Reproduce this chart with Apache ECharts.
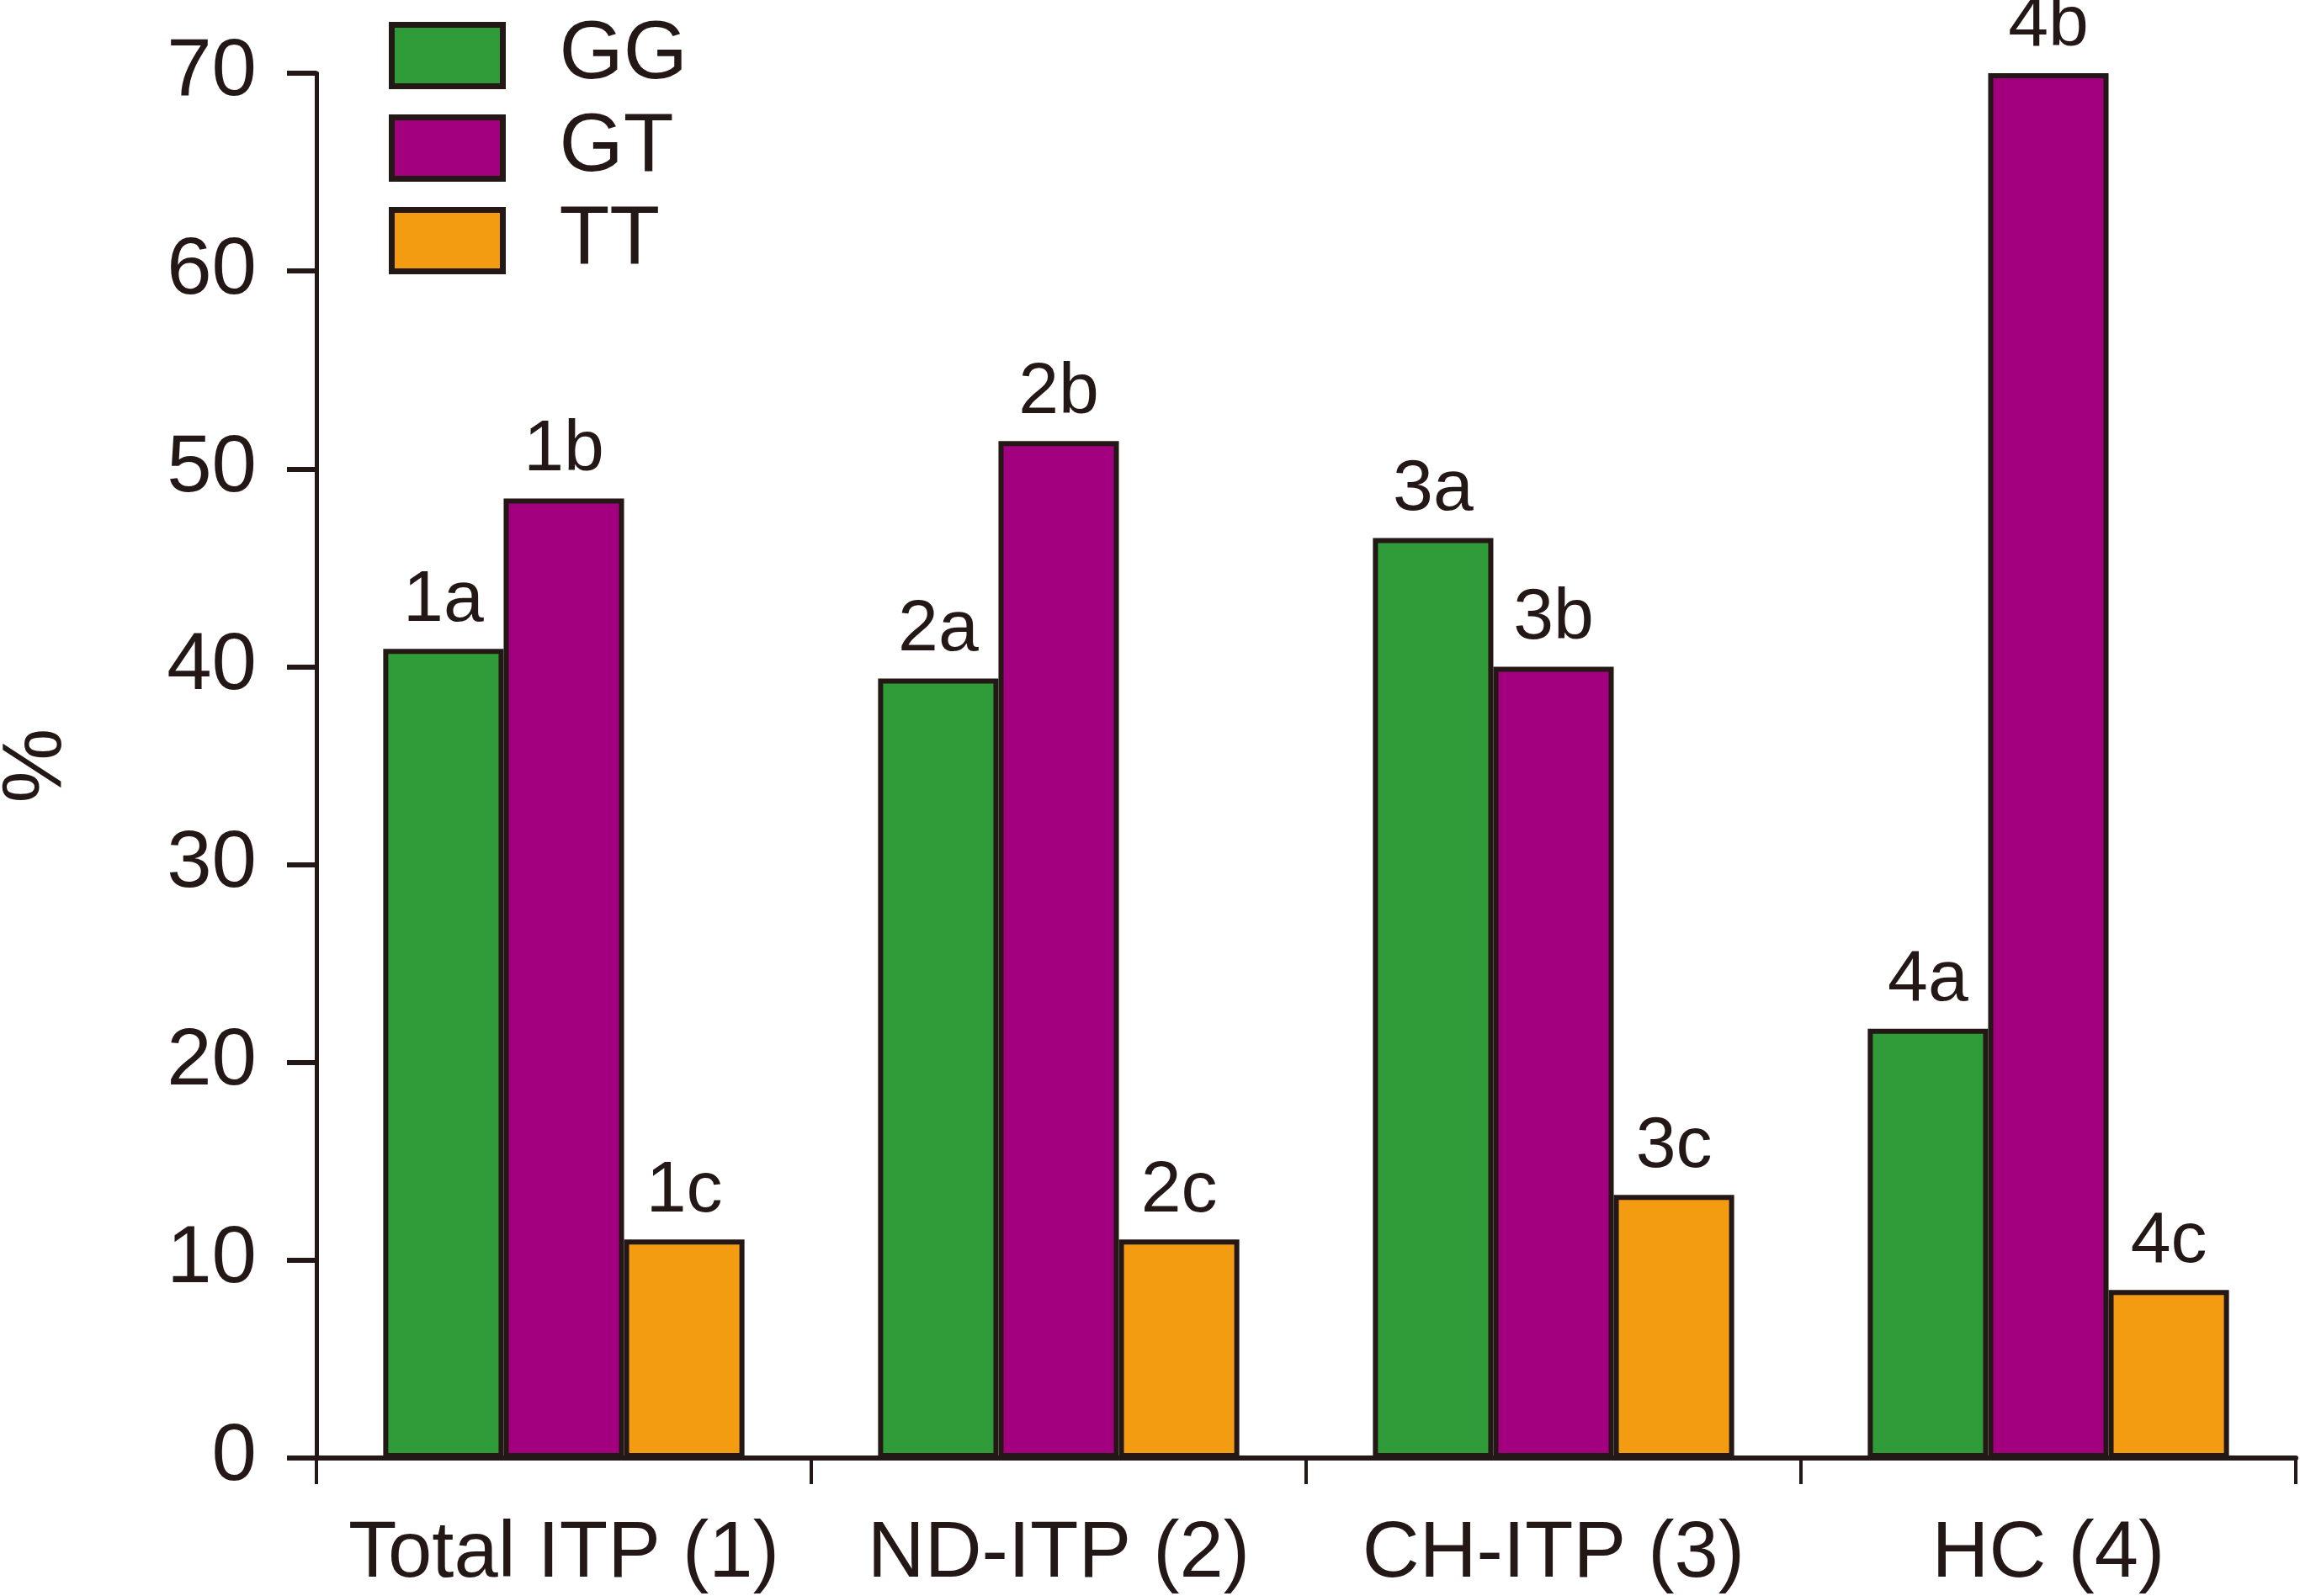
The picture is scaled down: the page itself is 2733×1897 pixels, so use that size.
<!DOCTYPE html>
<html>
<head>
<meta charset="utf-8">
<script src="https://cdn.jsdelivr.net/npm/echarts@6/dist/echarts.min.js"></script>
<style>
html,body{margin:0;padding:0;background:#fff;}
#chart{width:2733px;height:1897px;}
</style>
</head>
<body>
<div id="chart"></div>
<script>
var categories = ['Total ITP (1)', 'ND-ITP (2)', 'CH-ITP (3)', 'HC (4)'];
var seriesNames = ['GG', 'GT', 'TT'];
var ggValues = [40.9, 39.4, 46.5, 21.7];
var gtValues = [48.5, 51.4, 40.0, 70.0];
var ttValues = [11.05, 11.05, 13.3, 8.5];
var ggLabels = ['1a', '2a', '3a', '4a'];
var gtLabels = ['1b', '2b', '3b', '4b'];
var ttLabels = ['1c', '2c', '3c', '4c'];
var yTicks = [0, 10, 20, 30, 40, 50, 60, 70];

var FONT = "'Liberation Sans', Arial, Helvetica, sans-serif";
var INK = '#231815';
var colors = ['#2f9b39', '#a3007f', '#f39c12'];

function makeSeries(name, values, labels, color) {
  return {
    name: name,
    type: 'bar',
    data: values,
    barGap: '0%',
    barCategoryGap: '27%',
    itemStyle: { color: color, borderColor: INK, borderWidth: 6 },
    label: {
      show: true,
      position: 'top',
      distance: 14,
      fontFamily: FONT,
      fontSize: 86,
      color: INK,
      formatter: function (p) { return labels[p.dataIndex]; }
    },
    emphasis: { disabled: true }
  };
}

var chart = echarts.init(document.getElementById('chart'));
chart.setOption({
  animation: false,
  backgroundColor: '#fff',
  textStyle: { fontFamily: FONT, color: INK },
  legend: {
    orient: 'vertical',
    left: 457,
    top: 12,
    itemWidth: 132,
    itemHeight: 73,
    itemGap: 12,
    data: seriesNames,
    icon: 'rect',
    itemStyle: { borderColor: INK, borderWidth: 7 },
    textStyle: { fontFamily: FONT, fontSize: 98, color: INK, padding: [0, 0, 0, 62] }
  },
  grid: { left: 376, right: 5, top: 87, bottom: 164, containLabel: false, outerBoundsMode: 'none' },
  xAxis: {
    type: 'category',
    data: categories,
    boundaryGap: true,
    axisLine: { lineStyle: { color: INK, width: 6 } },
    axisTick: { show: true, alignWithLabel: false, length: 31, lineStyle: { color: INK, width: 4 } },
    axisLabel: { fontFamily: FONT, fontSize: 94, color: INK, margin: 68, interval: 0 }
  },
  yAxis: {
    type: 'value',
    min: yTicks[0],
    max: yTicks[yTicks.length - 1],
    interval: 10,
    name: '%',
    nameLocation: 'middle',
    nameRotate: 90,
    nameGap: 282,
    nameTextStyle: { fontFamily: FONT, fontSize: 100, color: INK },
    splitLine: { show: false },
    axisLine: { show: true, lineStyle: { color: INK, width: 5 } },
    axisTick: { show: true, length: 35, lineStyle: { color: INK, width: 6 } },
    axisLabel: { fontFamily: FONT, fontSize: 96, color: INK, margin: 71 }
  },
  series: [
    makeSeries(seriesNames[0], ggValues, ggLabels, colors[0]),
    makeSeries(seriesNames[1], gtValues, gtLabels, colors[1]),
    makeSeries(seriesNames[2], ttValues, ttLabels, colors[2])
  ]
});
</script>
</body>
</html>
